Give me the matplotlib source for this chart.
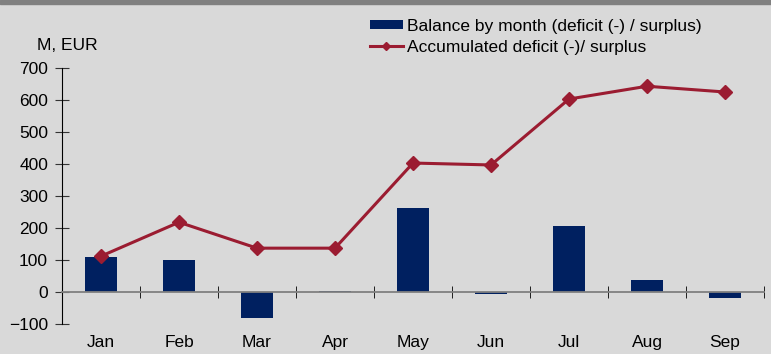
import matplotlib.pyplot as plt
from matplotlib.patches import Rectangle
import numpy as np

plt.rcParams['font.family'] = ['Liberation Sans', 'DejaVu Sans']

# Monthly budget balance and running total, M EUR
months = ['Jan', 'Feb', 'Mar', 'Apr', 'May', 'Jun', 'Jul', 'Aug', 'Sep']
balance = [108, 100, -82, 3, 262, -5, 206, 38, -20]
accumulated = [112, 218, 137, 137, 403, 397, 603, 643, 625]
yticks = [-100, 0, 100, 200, 300, 400, 500, 600, 700]

bg = '#d9d9d9'
navy = '#002060'
red = '#9b1c31'

fig = plt.figure(figsize=(7.71, 3.54), dpi=100, facecolor=bg)
fig.patches.append(Rectangle((0, 1 - 4 / 354), 1, 4 / 354, transform=fig.transFigure,
                             color='#808080', zorder=0))

ax = fig.add_axes([62 / 771, 1 - 324 / 354, 702 / 771, 256 / 354])
ax.set_facecolor(bg)

x = np.arange(len(months))
bars = ax.bar(x, balance, width=0.4, color=navy, zorder=2)
line, = ax.plot(x, accumulated, color=red, lw=2.2, marker='D', ms=7, zorder=3)

ax.set_xlim(-0.5, len(months) - 0.5)
ax.set_ylim(-100, 700)
ax.set_yticks(yticks)
ax.tick_params(axis='y', direction='inout', length=10, color='#333333', labelsize=12.5, pad=5)

# x axis sits on the zero line, with ticks between months
for s in ['top', 'right']:
    ax.spines[s].set_visible(False)
ax.spines['left'].set_color('black')
ax.spines['bottom'].set_position(('data', 0))
ax.spines['bottom'].set_color('#808080')
ax.spines['bottom'].set_linewidth(1.3)
ax.set_xticks(x)
ax.set_xticklabels(months)
ax.set_xticks(np.arange(len(months)) + 0.5, minor=True)
ax.tick_params(axis='x', which='major', length=0, labelsize=12.5, pad=31)
ax.tick_params(axis='x', which='minor', direction='inout', length=9, color='black')

fig.text(37 / 771, 1 - 45 / 354, 'M, EUR', fontsize=12.5, va='center', ha='left')

fig.legend([bars, line],
           ['Balance by month (deficit (-) / surplus)', 'Accumulated deficit (-)/ surplus'],
           loc='upper left', bbox_to_anchor=(370 / 771, 1 - 19 / 354), frameon=False,
           fontsize=12.5, handlelength=1.9, handleheight=0.45, handletextpad=0.25,
           labelspacing=0.32, borderpad=0, borderaxespad=0, markerscale=0.6)

fig.savefig('out.png', dpi=100, facecolor=bg)
